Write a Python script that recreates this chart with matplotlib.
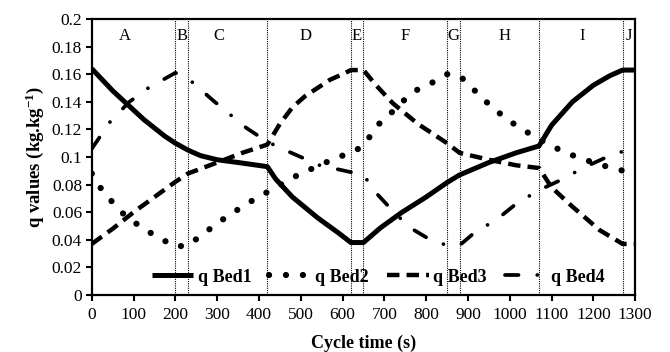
import matplotlib
matplotlib.use("Agg")
import matplotlib.pyplot as plt
from matplotlib.ticker import MultipleLocator, FuncFormatter

plt.rcParams["font.family"] = ["Liberation Serif", "DejaVu Serif"]
plt.rcParams["mathtext.fontset"] = "custom"
plt.rcParams["mathtext.rm"] = "Liberation Serif"
plt.rcParams["mathtext.bf"] = "Liberation Serif:bold"
plt.rcParams["mathtext.default"] = "bf"

# --- data ---
t_bed1 = [0, 25, 50, 75, 100, 125, 150, 175, 200, 230, 260, 300, 350, 420,
          440, 480, 540, 590, 620, 650, 690, 740, 800, 850, 880, 950, 1015,
          1070, 1100, 1150, 1200, 1240, 1270, 1300]
q_bed1 = [0.164, 0.156, 0.148, 0.141, 0.134, 0.127, 0.121, 0.115, 0.110,
          0.105, 0.101, 0.098, 0.096, 0.093, 0.084, 0.071, 0.056, 0.045,
          0.038, 0.038, 0.0485, 0.0595, 0.071, 0.0815, 0.087, 0.096, 0.103,
          0.108, 0.123, 0.140, 0.152, 0.159, 0.163, 0.163]

t_bed2 = [0, 20, 50, 75, 105, 135, 170, 200, 230, 270, 305, 335, 370, 405,
          440, 470, 505, 540, 580, 620, 650, 670, 690, 720, 750, 780, 815,
          850, 880, 910, 940, 970, 1000, 1030, 1070, 1100, 1135, 1170, 1210,
          1245, 1285, 1300]
q_bed2 = [0.088, 0.078, 0.067, 0.059, 0.052, 0.046, 0.040, 0.035, 0.036,
          0.045, 0.053, 0.059, 0.066, 0.072, 0.078, 0.083, 0.089, 0.093,
          0.099, 0.103, 0.108, 0.117, 0.125, 0.133, 0.142, 0.149, 0.154,
          0.160, 0.159, 0.150, 0.141, 0.133, 0.126, 0.120, 0.113, 0.108,
          0.103, 0.099, 0.095, 0.092, 0.089, 0.088]

t_bed3 = [0, 50, 100, 150, 200, 230, 300, 360, 420, 450, 480, 510, 540, 570,
          600, 620, 650, 680, 720, 780, 830, 850, 880, 950, 1015, 1070, 1100,
          1150, 1215, 1270, 1300]
q_bed3 = [0.037, 0.048, 0.060, 0.071, 0.082, 0.088, 0.096, 0.103, 0.109,
          0.124, 0.136, 0.144, 0.150, 0.156, 0.160, 0.163, 0.163, 0.152,
          0.139, 0.124, 0.114, 0.110, 0.103, 0.098, 0.094, 0.092, 0.078,
          0.064, 0.047, 0.037, 0.037]

t_bed4 = [0, 45, 90, 135, 200, 230, 290, 330, 370, 420, 470, 545, 620, 650,
          680, 720, 760, 810, 850, 880, 915, 970, 1015, 1070, 1120, 1175,
          1225, 1270, 1300]
q_bed4 = [0.106, 0.126, 0.140, 0.150, 0.161, 0.157, 0.141, 0.131, 0.121,
          0.111, 0.104, 0.094, 0.089, 0.087, 0.074, 0.061, 0.049, 0.040,
          0.036, 0.036, 0.045, 0.055, 0.066, 0.076, 0.083, 0.092, 0.099,
          0.104, 0.107]

step_bounds = [200, 230, 420, 620, 650, 850, 880, 1070, 1270]
step_names = ["A", "B", "C", "D", "E", "F", "G", "H", "I", "J"]
step_name_x = [80, 216, 305, 512, 633, 750, 866, 988, 1172, 1284]

fig = plt.figure(figsize=(6.7, 3.52), dpi=100)
ax = fig.add_axes([0.137, 0.162, 0.811, 0.784])

for b in step_bounds:
    ax.axvline(b, color="black", linestyle=(0, (1, 1)), linewidth=0.8)

ax.plot(t_bed1, q_bed1, color="black", lw=3.6, solid_capstyle="butt",
        label="q Bed1")
ax.plot(t_bed2, q_bed2, color="black", lw=4.5, linestyle=(0, (0.01, 2.7)),
        dash_capstyle="round", label="q Bed2")
ax.plot(t_bed3, q_bed3, color="black", lw=3.2, linestyle=(0, (2.8, 1.6)),
        dash_capstyle="butt", label="q Bed3")
ax.plot(t_bed4, q_bed4, color="black", lw=2.7,
        linestyle=(0, (3.6, 5.0, 0.01, 5.0)), dash_capstyle="round",
        label="q Bed4")

for name, x in zip(step_names, step_name_x):
    ax.text(x, 0.188, name, ha="center", va="center", fontsize=12)

ax.set_xlim(0, 1300)
ax.set_ylim(0, 0.2)
ax.xaxis.set_major_locator(MultipleLocator(100))
ax.yaxis.set_major_locator(MultipleLocator(0.02))
ax.yaxis.set_major_formatter(FuncFormatter(lambda v, p: f"{round(v, 3):g}"))
ax.tick_params(direction="out", length=4, width=1.5, labelsize=12.5, pad=3)
ax.tick_params(axis="x", pad=5)
for s in ax.spines.values():
    s.set_linewidth(1.6)

ax.set_xlabel("Cycle time (s)", fontsize=13, fontweight="bold", labelpad=8)
ax.set_ylabel(r"q values (kg.kg$^{-1}$)", fontsize=13.5, fontweight="bold",
              labelpad=4)

ax.legend(loc="center", bbox_to_anchor=(0.527, 0.065), ncol=4,
          frameon=False, handlelength=2.3, handletextpad=0.25,
          columnspacing=1.0, borderpad=0, prop={"weight": "bold", "size": 13})

fig.savefig("out.png", dpi=100)
